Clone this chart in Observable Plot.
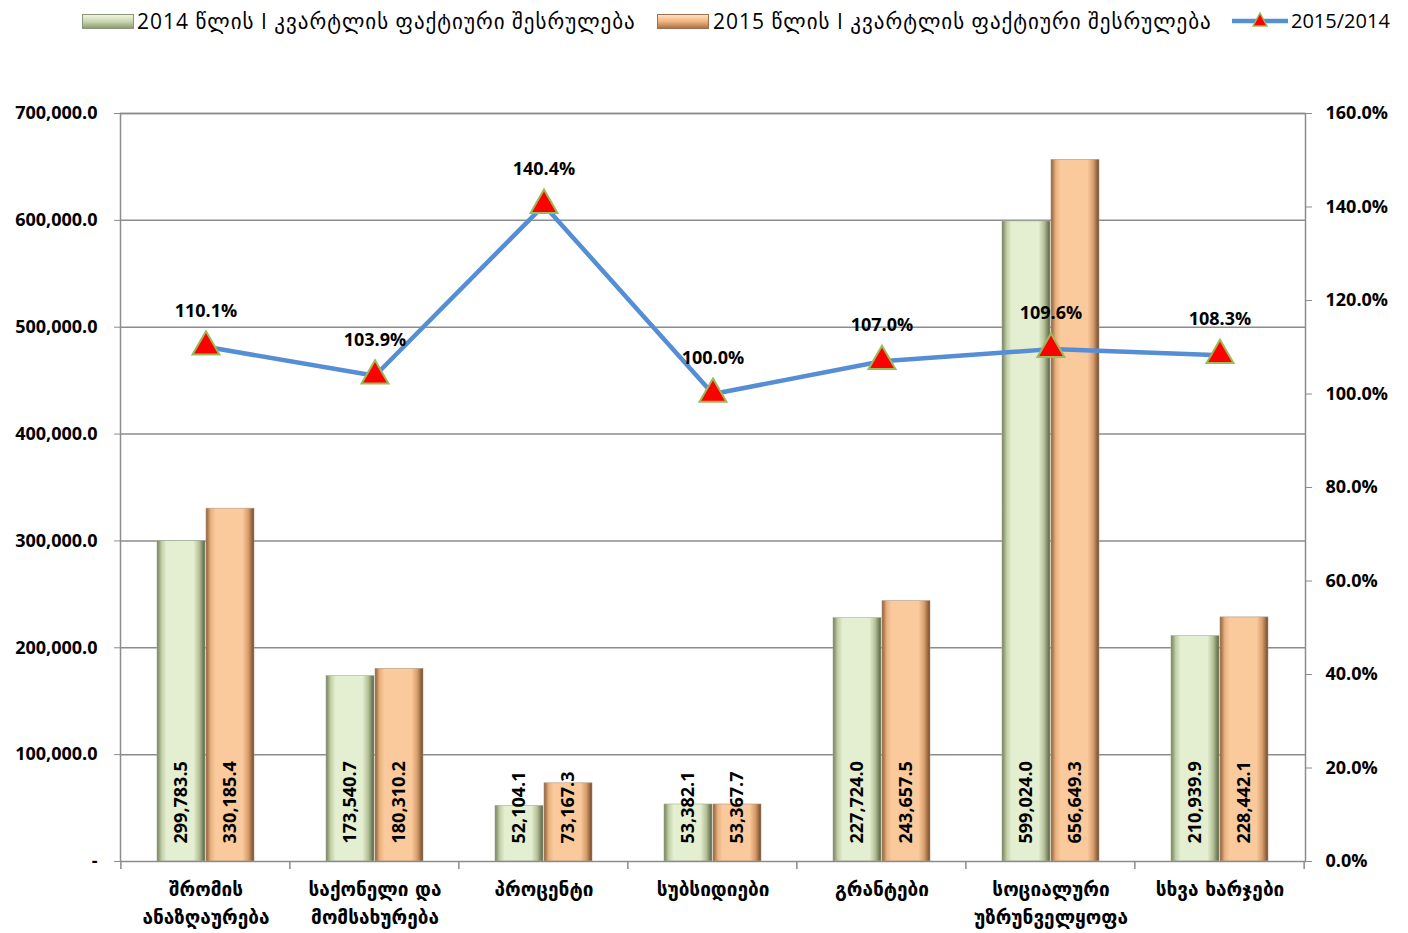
<!DOCTYPE html>
<html>
<head>
<meta charset="utf-8">
<script src="https://cdn.jsdelivr.net/npm/d3@7"></script>
<script src="https://cdn.jsdelivr.net/npm/@observablehq/plot@0.6"></script>
<style>
  body { margin: 0; background: #fff; }
  #wrap { position: relative; width: 1408px; height: 933px; }
  #legend { position: absolute; left: 0; top: 0; width: 1408px; height: 45px; font-family: "Open Sans", "DejaVu Sans", sans-serif; font-size: 20px; color: #000; }
  .li { position: absolute; top: 7px; white-space: nowrap; line-height: 28px; }
  .geo { letter-spacing: 1px; font-size: 21px; }
  .sw { position: absolute; top: 14px; width: 50px; height: 13px; }
</style>
</head>
<body>
<div id="wrap">
  <div id="legend"></div>
  <div id="chart"></div>
</div>
<script>
const categories = ["შრომის\nანაზღაურება","საქონელი და\nმომსახურება","პროცენტი","სუბსიდიები","გრანტები","სოციალური\nუზრუნველყოფა","სხვა ხარჯები"];
const v2014 = [299783.5, 173540.7, 52104.1, 53382.1, 227724.0, 599024.0, 210939.9];
const v2015 = [330185.4, 180310.2, 73167.3, 53367.7, 243657.5, 656649.3, 228442.1];
const ratio = [110.1, 103.9, 140.4, 100.0, 107.0, 109.6, 108.3];
const leftTicks = [0, 100000, 200000, 300000, 400000, 500000, 600000, 700000];
const rightTicks = [0, 20, 40, 60, 80, 100, 120, 140, 160];
const seriesNames = ["2014 წლის I კვარტლის ფაქტიური შესრულება", "2015 წლის I კვარტლის ფაქტიური შესრულება", "2015/2014"];

const yMax = 700000, pMax = 160, k = yMax / pMax;
const rows = categories.map((c, i) => ({cat: c, a: v2014[i], b: v2015[i], r: ratio[i]}));
const fmt = d3.format(",.1f");

const W = 1408, H = 933;
const mL = 120, mR = 103, mT = 113, mB = 72;
const step = (W - mL - mR) / categories.length;
const pInner = 0.427;
const bw = step * (1 - pInner);
const half = bw / 2;

const font = "'Open Sans', 'DejaVu Sans', sans-serif";
const fs = 18;

const separators = (index, scales, values, dim) => {
  const g = d3.create("svg:g");
  const x = scales.x, y0 = scales.y(0);
  const bounds = categories.map(c => x(c) - (step - bw) / 2);
  bounds.push(x(categories[categories.length - 1]) + bw + (step - bw) / 2);
  for (const b of bounds) {
    g.append("line").attr("x1", b).attr("x2", b).attr("y1", y0).attr("y2", y0 + 8)
      .attr("stroke", "#8c8c8c").attr("stroke-width", 1.5);
  }
  return g.node();
};

const chart = Plot.plot({
  width: W, height: H,
  marginLeft: mL, marginRight: mR, marginTop: mT, marginBottom: mB,
  style: {fontFamily: font, fontSize: fs + "px", background: "#fff", overflow: "visible"},
  x: {type: "band", domain: categories, paddingInner: pInner, paddingOuter: pInner / 2},
  y: {domain: [0, yMax]},
  marks: [
    Plot.ruleY(leftTicks.slice(1), {stroke: "#8c8c8c", strokeWidth: 1.5}),
    Plot.barY(rows, {x: "cat", y: "a", fill: "url(#g14)", insetRight: half + 0.5, stroke: "#a8ad98", strokeWidth: 0.6}),
    Plot.barY(rows, {x: "cat", y: "b", fill: "url(#g15)", insetLeft: half + 0.5, stroke: "#b09a80", strokeWidth: 0.6}),
    Plot.frame({stroke: "#8c8c8c", strokeWidth: 1.5}),
    Plot.axisY(leftTicks, {anchor: "left", tickSize: 6, tickPadding: 17, stroke: "#8c8c8c", fontWeight: "bold", fontSize: fs,
      tickFormat: d => d === 0 ? "-" : fmt(d), label: null}),
    Plot.axisY(rightTicks.map(p => p * k), {anchor: "right", tickSize: 6, tickPadding: 14, stroke: "#8c8c8c", fontWeight: "bold", fontSize: fs,
      tickFormat: d => (d / k).toFixed(1) + "%", label: null}),
    separators,
    Plot.axisX({tickSize: 0, tickPadding: 15, fontSize: 19, fontWeight: "bold", lineHeight: 1.45, label: null, fontFamily: "'DejaVu Sans', sans-serif"}),
    Plot.text(rows, {x: "cat", y: 0, text: d => fmt(d.a), rotate: -90, textAnchor: "start", dx: -24.5, dy: -18, fontWeight: "bold", fontSize: fs, fill: "#000"}),
    Plot.text(rows, {x: "cat", y: 0, text: d => fmt(d.b), rotate: -90, textAnchor: "start", dx: 24.5, dy: -18, fontWeight: "bold", fontSize: fs, fill: "#000"}),
    Plot.line(rows, {x: "cat", y: d => d.r * k, stroke: "#558ed5", strokeWidth: 4.5}),
    Plot.dot(rows, {x: "cat", y: d => d.r * k, symbol: "triangle", r: 10, fill: "#ff0000", stroke: "#9bbb59", strokeWidth: 2}),
    Plot.text(rows, {x: "cat", y: d => d.r * k, text: d => d.r.toFixed(1) + "%", dy: -36, fontWeight: "bold", fontSize: fs, fill: "#000"})
  ]
});

const defs = d3.select(chart).insert("defs", ":first-child");
function grad(id, stops) {
  const g = defs.append("linearGradient").attr("id", id).attr("x1", "0").attr("x2", "1").attr("y1", "0").attr("y2", "0");
  for (const [o, c] of stops) g.append("stop").attr("offset", o).attr("stop-color", c);
}
grad("g14", [[0, "#737f5c"], [0.1, "#c3d0a8"], [0.2, "#e4eed0"], [0.76, "#e4eed0"], [0.88, "#b4c096"], [1, "#555f40"]]);
grad("g15", [[0, "#8c5e38"], [0.1, "#eab27f"], [0.2, "#fac99c"], [0.76, "#fac99c"], [0.88, "#d89e6c"], [1, "#70482a"]]);

document.getElementById("chart").appendChild(chart);

const legend = document.getElementById("legend");
legend.innerHTML = `
  <div class="sw" style="left:82px;background:linear-gradient(#eef5e0,#c9d6ae 50%,#8e9b74);border:1px solid #8a9677"></div>
  <div class="li geo" style="left:137px">${seriesNames[0]}</div>
  <div class="sw" style="left:657px;background:linear-gradient(#fde0c4,#f2b27c 50%,#a8764c);border:1px solid #9a7050"></div>
  <div class="li geo" style="left:713px">${seriesNames[1]}</div>
  <svg style="position:absolute;left:1230px;top:8px" width="60" height="26">
    <line x1="2" x2="58" y1="13" y2="13" stroke="#558ed5" stroke-width="4.5"/>
    <path d="M30,5 L37,18 L23,18 Z" fill="#ff0000" stroke="#9bbb59" stroke-width="1.5"/>
  </svg>
  <div class="li" style="left:1291px">${seriesNames[2]}</div>`;
</script>
</body>
</html>
